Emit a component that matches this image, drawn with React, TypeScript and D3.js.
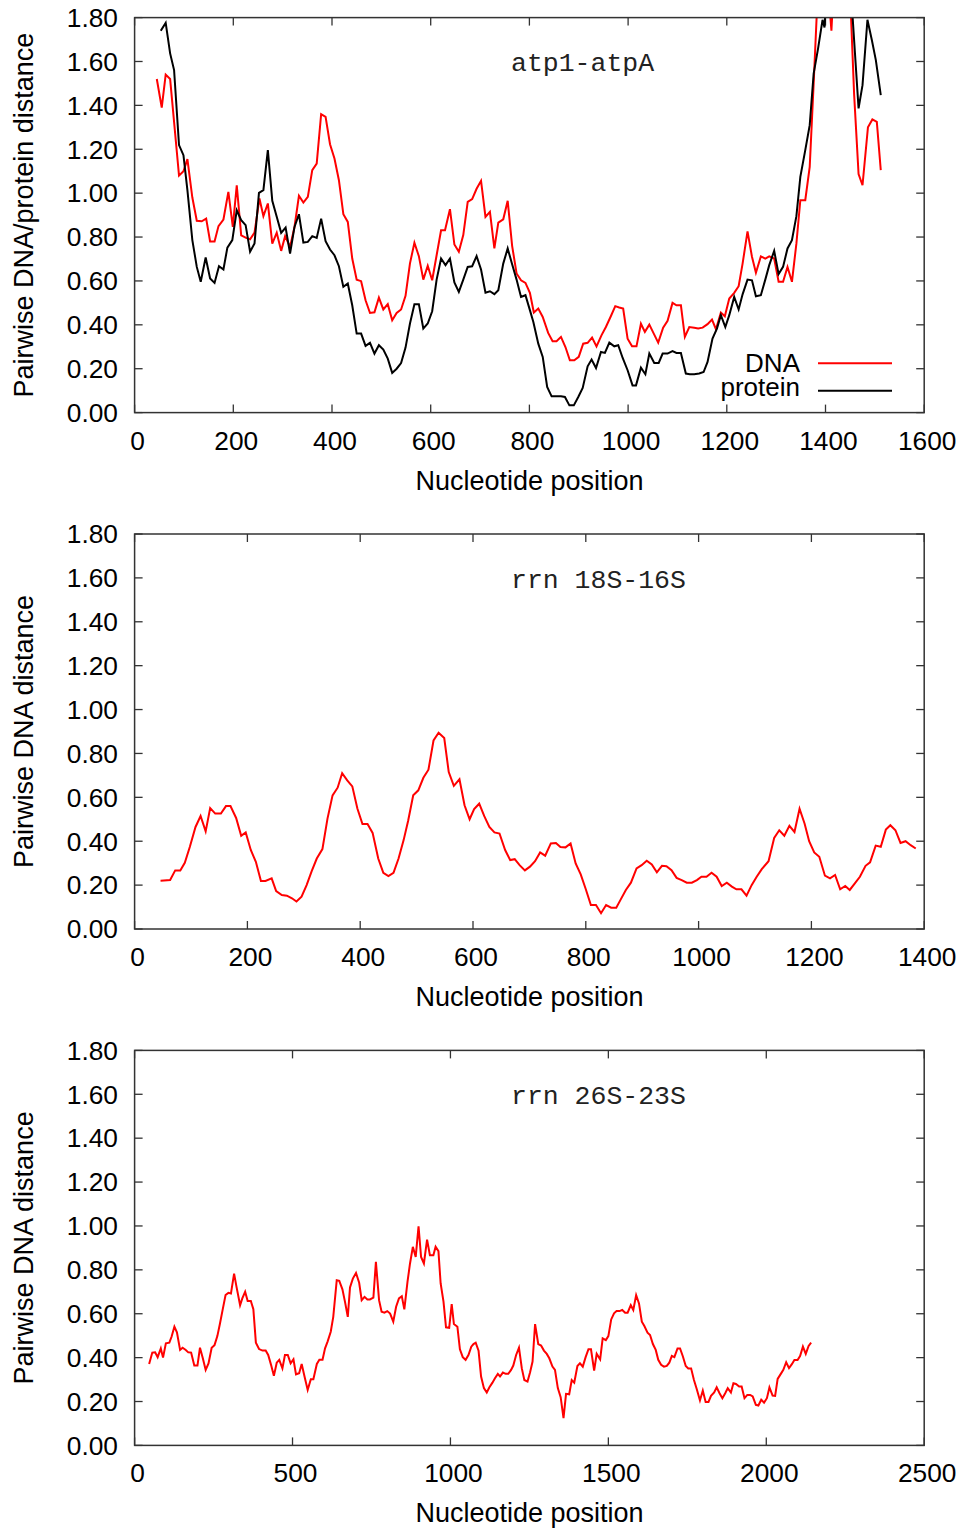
import React from 'react';
import * as d3 from 'd3';

type Pt = [number, number];

// Panel 1: atp1-atpA  (position, distance)
const atpDNA: Pt[] = [[45,1.52],[55,1.39],[63,1.54],[72,1.52],[90,1.08],[99,1.10],[107,1.155],[117,0.98],[126,0.874],[136,0.872],[145,0.884],[153,0.78],[162,0.78],[170,0.85],[180,0.88],[190,1.006],[199,0.846],[207,1.036],[216,0.808],[226,0.796],[234,0.79],[243,0.82],[253,0.976],[261,0.895],[270,0.953],[279,0.77],[288,0.82],[297,0.737],[305,0.804],[315,0.755],[324,0.846],[333,0.988],[342,0.957],[351,0.983],[360,1.105],[369,1.135],[378,1.36],[387,1.348],[396,1.223],[405,1.158],[414,1.059],[423,0.904],[432,0.869],[441,0.702],[450,0.606],[459,0.599],[468,0.512],[477,0.454],[486,0.457],[495,0.524],[504,0.47],[513,0.494],[522,0.421],[531,0.454],[540,0.47],[549,0.532],[558,0.68],[567,0.774],[576,0.713],[585,0.606],[594,0.669],[603,0.603],[612,0.717],[621,0.831],[629,0.831],[639,0.927],[648,0.766],[657,0.733],[666,0.809],[675,0.96],[684,0.973],[693,1.02],[702,1.056],[711,0.892],[720,0.915],[729,0.748],[737,0.866],[747,0.881],[756,0.965],[765,0.76],[774,0.634],[783,0.603],[792,0.591],[801,0.546],[809,0.456],[818,0.474],[827,0.436],[838,0.363],[847,0.325],[855,0.325],[864,0.345],[873,0.299],[882,0.238],[891,0.238],[900,0.254],[909,0.314],[918,0.318],[927,0.342],[936,0.302],[946,0.352],[955,0.39],[965,0.439],[974,0.485],[982,0.479],[990,0.474],[999,0.337],[1008,0.302],[1017,0.302],[1026,0.405],[1034,0.368],[1043,0.401],[1052,0.36],[1061,0.319],[1071,0.387],[1080,0.418],[1090,0.5],[1098,0.489],[1107,0.489],[1115,0.345],[1124,0.39],[1134,0.387],[1142,0.383],[1151,0.387],[1161,0.403],[1170,0.424],[1178,0.38],[1188,0.456],[1196,0.439],[1205,0.52],[1215,0.546],[1224,0.576],[1232,0.679],[1242,0.826],[1251,0.71],[1259,0.637],[1269,0.712],[1278,0.702],[1286,0.712],[1296,0.702],[1305,0.596],[1314,0.596],[1323,0.664],[1332,0.596],[1341,0.77],[1349,0.968],[1359,0.968],[1368,1.12],[1376,1.5],[1385,1.95],[1394,2.1],[1403,2.0],[1412,1.74],[1420,2.1],[1430,2.3],[1440,2.3],[1450,1.9],[1458,1.45],[1467,1.087],[1475,1.036],[1486,1.30],[1495,1.336],[1504,1.325],[1512,1.105]];

const atpProtein: Pt[] = [[53,1.74],[63,1.776],[72,1.637],[80,1.561],[90,1.219],[99,1.173],[107,1.014],[117,0.786],[126,0.664],[134,0.596],[144,0.707],[153,0.611],[162,0.591],[171,0.667],[180,0.652],[188,0.752],[198,0.786],[207,0.922],[216,0.877],[225,0.854],[234,0.733],[243,0.771],[252,1.001],[261,1.014],[270,1.196],[279,0.965],[288,0.892],[297,0.819],[306,0.843],[315,0.725],[324,0.846],[333,0.904],[342,0.775],[351,0.778],[360,0.804],[369,0.796],[378,0.884],[387,0.781],[396,0.743],[405,0.717],[414,0.667],[423,0.573],[432,0.588],[441,0.489],[450,0.36],[459,0.36],[468,0.304],[477,0.318],[486,0.269],[495,0.307],[504,0.287],[513,0.246],[522,0.181],[531,0.2],[540,0.226],[549,0.296],[558,0.406],[567,0.494],[576,0.494],[585,0.383],[594,0.406],[603,0.462],[612,0.606],[621,0.702],[630,0.672],[639,0.702],[648,0.593],[657,0.55],[666,0.606],[675,0.664],[684,0.667],[693,0.713],[702,0.652],[711,0.546],[720,0.553],[729,0.54],[737,0.558],[747,0.679],[756,0.748],[765,0.676],[774,0.606],[783,0.527],[792,0.535],[801,0.467],[808,0.413],[818,0.314],[827,0.254],[836,0.117],[845,0.074],[855,0.074],[864,0.074],[872,0.071],[881,0.033],[890,0.033],[899,0.071],[908,0.112],[918,0.211],[926,0.242],[935,0.203],[945,0.276],[953,0.272],[962,0.319],[972,0.302],[980,0.307],[989,0.249],[999,0.193],[1009,0.124],[1016,0.124],[1026,0.205],[1035,0.175],[1043,0.269],[1053,0.226],[1062,0.226],[1070,0.269],[1080,0.269],[1090,0.28],[1098,0.272],[1107,0.272],[1117,0.178],[1125,0.175],[1134,0.175],[1144,0.178],[1153,0.185],[1161,0.231],[1171,0.337],[1180,0.383],[1188,0.444],[1197,0.39],[1205,0.444],[1215,0.527],[1224,0.47],[1232,0.539],[1242,0.606],[1251,0.603],[1259,0.53],[1269,0.535],[1278,0.606],[1286,0.672],[1296,0.737],[1305,0.631],[1314,0.664],[1323,0.748],[1332,0.786],[1341,0.895],[1349,1.074],[1359,1.196],[1368,1.31],[1376,1.545],[1385,1.66],[1394,1.79],[1398,1.755],[1403,1.95],[1415,2.2],[1430,2.4],[1445,2.3],[1455,1.8],[1467,1.386],[1475,1.492],[1485,1.79],[1494,1.697],[1502,1.606],[1512,1.447]];

// Panel 2: rrn 18S-16S
const rrn18S: Pt[] = [[46,0.22],[63,0.223],[72,0.267],[81,0.267],[89,0.302],[98,0.375],[108,0.465],[117,0.515],[126,0.445],[134,0.551],[143,0.526],[153,0.526],[162,0.56],[170,0.56],[180,0.506],[189,0.425],[197,0.44],[206,0.36],[215,0.306],[224,0.219],[232,0.219],[243,0.231],[251,0.173],[261,0.155],[270,0.152],[279,0.14],[287,0.125],[296,0.147],[305,0.2],[314,0.264],[323,0.321],[333,0.364],[342,0.503],[351,0.609],[360,0.644],[368,0.71],[377,0.677],[386,0.65],[395,0.549],[404,0.478],[413,0.478],[422,0.438],[432,0.321],[441,0.256],[450,0.241],[459,0.256],[468,0.321],[477,0.405],[485,0.493],[494,0.609],[503,0.632],[512,0.689],[521,0.726],[530,0.859],[539,0.894],[549,0.87],[557,0.715],[566,0.652],[576,0.682],[585,0.564],[594,0.5],[602,0.546],[611,0.571],[620,0.514],[629,0.465],[638,0.44],[647,0.435],[657,0.36],[666,0.314],[674,0.318],[683,0.29],[692,0.267],[701,0.284],[710,0.309],[719,0.349],[728,0.334],[738,0.39],[747,0.392],[755,0.374],[764,0.372],[773,0.39],[782,0.299],[791,0.249],[800,0.181],[809,0.109],[818,0.109],[827,0.072],[836,0.109],[845,0.097],[854,0.097],[862,0.135],[871,0.178],[880,0.211],[890,0.276],[899,0.291],[908,0.311],[917,0.294],[926,0.258],[935,0.288],[943,0.286],[952,0.268],[961,0.233],[970,0.223],[979,0.211],[988,0.211],[997,0.223],[1005,0.238],[1014,0.238],[1023,0.256],[1032,0.238],[1041,0.196],[1050,0.211],[1059,0.193],[1067,0.181],[1076,0.181],[1085,0.152],[1094,0.2],[1103,0.238],[1112,0.273],[1124,0.309],[1134,0.415],[1143,0.45],[1152,0.425],[1161,0.47],[1170,0.442],[1179,0.548],[1188,0.48],[1196,0.4],[1205,0.349],[1214,0.329],[1224,0.243],[1233,0.231],[1242,0.246],[1251,0.181],[1260,0.196],[1268,0.178],[1277,0.208],[1286,0.238],[1296,0.288],[1304,0.304],[1314,0.38],[1323,0.375],[1332,0.453],[1340,0.473],[1349,0.45],[1358,0.392],[1367,0.4],[1376,0.382],[1385,0.367]];

// Panel 3: rrn 26S-23S
const rrn26S: Pt[] = [[46,0.371],[56,0.423],[65,0.424],[73,0.402],[83,0.442],[90,0.4],[99,0.465],[110,0.468],[117,0.495],[126,0.541],[134,0.515],[144,0.435],[152,0.445],[162,0.435],[170,0.424],[179,0.423],[189,0.364],[199,0.364],[207,0.445],[216,0.397],[225,0.344],[234,0.374],[244,0.445],[253,0.457],[262,0.498],[270,0.553],[279,0.62],[288,0.685],[297,0.695],[305,0.692],[315,0.783],[323,0.72],[334,0.639],[341,0.67],[350,0.7],[358,0.658],[368,0.658],[376,0.621],[384,0.468],[394,0.439],[405,0.432],[415,0.432],[423,0.412],[432,0.367],[441,0.317],[450,0.377],[458,0.39],[468,0.351],[476,0.412],[485,0.412],[494,0.374],[503,0.392],[511,0.324],[521,0.329],[529,0.371],[538,0.314],[548,0.253],[558,0.302],[566,0.302],[577,0.371],[585,0.39],[595,0.39],[603,0.442],[611,0.473],[621,0.518],[629,0.586],[640,0.753],[648,0.75],[658,0.711],[666,0.655],[675,0.586],[682,0.72],[691,0.76],[701,0.786],[711,0.741],[719,0.662],[728,0.677],[737,0.665],[745,0.665],[756,0.673],[764,0.836],[774,0.662],[782,0.609],[791,0.605],[800,0.612],[809,0.601],[819,0.564],[828,0.632],[837,0.67],[846,0.68],[854,0.62],[864,0.745],[872,0.829],[881,0.905],[890,0.859],[899,0.998],[907,0.859],[916,0.829],[926,0.938],[935,0.867],[946,0.867],[953,0.905],[962,0.885],[969,0.738],[978,0.655],[986,0.538],[996,0.536],[1004,0.644],[1011,0.553],[1022,0.541],[1030,0.438],[1039,0.402],[1048,0.39],[1057,0.412],[1066,0.45],[1073,0.462],[1080,0.468],[1089,0.432],[1097,0.314],[1106,0.261],[1115,0.241],[1123,0.264],[1133,0.286],[1141,0.306],[1150,0.326],[1157,0.314],[1166,0.332],[1175,0.326],[1183,0.326],[1192,0.344],[1199,0.364],[1208,0.412],[1217,0.445],[1226,0.351],[1234,0.298],[1244,0.291],[1252,0.332],[1260,0.382],[1268,0.553],[1278,0.462],[1287,0.455],[1296,0.432],[1305,0.417],[1313,0.397],[1323,0.359],[1331,0.344],[1340,0.261],[1349,0.22],[1358,0.124],[1366,0.235],[1376,0.233],[1384,0.298],[1392,0.286],[1402,0.362],[1410,0.374],[1419,0.359],[1428,0.402],[1437,0.438],[1445,0.438],[1455,0.341],[1463,0.417],[1474,0.392],[1482,0.488],[1492,0.48],[1500,0.498],[1509,0.574],[1518,0.602],[1526,0.612],[1535,0.612],[1544,0.617],[1553,0.605],[1561,0.605],[1571,0.639],[1579,0.617],[1588,0.685],[1597,0.647],[1606,0.564],[1614,0.544],[1624,0.514],[1632,0.503],[1641,0.462],[1650,0.435],[1658,0.39],[1667,0.367],[1676,0.359],[1685,0.362],[1693,0.377],[1701,0.408],[1709,0.402],[1719,0.442],[1727,0.442],[1736,0.405],[1745,0.362],[1753,0.351],[1762,0.351],[1771,0.298],[1780,0.256],[1790,0.205],[1799,0.25],[1808,0.198],[1817,0.198],[1825,0.226],[1835,0.241],[1843,0.265],[1852,0.238],[1861,0.215],[1870,0.238],[1878,0.261],[1888,0.241],[1896,0.283],[1904,0.28],[1914,0.268],[1922,0.268],[1931,0.215],[1940,0.23],[1949,0.23],[1957,0.223],[1967,0.185],[1975,0.182],[1984,0.208],[1993,0.195],[2002,0.215],[2010,0.264],[2020,0.227],[2028,0.226],[2036,0.303],[2046,0.326],[2054,0.344],[2063,0.379],[2072,0.352],[2081,0.37],[2089,0.389],[2099,0.389],[2107,0.407],[2116,0.45],[2125,0.417],[2134,0.453],[2142,0.468]];

const yTicks = [0, 0.2, 0.4, 0.6, 0.8, 1.0, 1.2, 1.4, 1.6, 1.8];
const xTicks1 = [0, 200, 400, 600, 800, 1000, 1200, 1400, 1600];
const xTicks2 = [0, 200, 400, 600, 800, 1000, 1200, 1400];
const xTicks3 = [0, 500, 1000, 1500, 2000, 2500];
const panelTitles = ['atp1-atpA', 'rrn 18S-16S', 'rrn 26S-23S'];
const yTitles = ['Pairwise DNA/protein distance', 'Pairwise DNA distance', 'Pairwise DNA distance'];
const xTitle = 'Nucleotide position';
const legendLabels = ['DNA', 'protein'];

const RED = '#ff0000';
const BLACK = '#000000';
const FONT = '"Liberation Sans", Arial, Helvetica, sans-serif';
const MONO = '"Liberation Mono", "DejaVu Sans Mono", monospace';
const LEFT = 134.6;
const RIGHT = 924.2;
const H = 395;
const TOP0 = 17.6;
const STEP = 516.4;
const TICK = 8;

interface Series { data: Pt[]; color: string; }

function Panel({ idx, xTicks, series, title, yTitle, legend }:
  { idx: number; xTicks: number[]; series: Series[]; title: string; yTitle: string; legend: boolean }) {
  const top = TOP0 + idx * STEP;
  const bottom = top + H;
  const x = d3.scaleLinear().domain([0, xTicks[xTicks.length - 1]]).range([LEFT, RIGHT]);
  const y = d3.scaleLinear().domain([0, 1.8]).range([bottom, top]);
  const line = d3.line<Pt>().x(d => x(d[0])).y(d => y(d[1]));
  const clipId = `clip-${idx}`;
  return (
    <g>
      <defs>
        <clipPath id={clipId}>
          <rect x={LEFT} y={top} width={RIGHT - LEFT} height={H} />
        </clipPath>
      </defs>
      {yTicks.map(t => (
        <g key={'y' + t}>
          <line x1={LEFT} x2={LEFT + TICK} y1={y(t)} y2={y(t)} stroke="#333" strokeWidth={1.3} />
          <line x1={RIGHT - TICK} x2={RIGHT} y1={y(t)} y2={y(t)} stroke="#333" strokeWidth={1.3} />
          <text x={118} y={y(t) + 9.3} textAnchor="end" fontFamily={FONT} fontSize={26.3} fill="#000">
            {t.toFixed(2)}
          </text>
        </g>
      ))}
      {xTicks.map(t => (
        <g key={'x' + t}>
          <line x1={x(t)} x2={x(t)} y1={bottom} y2={bottom - TICK} stroke="#333" strokeWidth={1.3} />
          <line x1={x(t)} x2={x(t)} y1={top} y2={top + TICK} stroke="#333" strokeWidth={1.3} />
          <text x={x(t) + 3} y={bottom + 37} textAnchor="middle" fontFamily={FONT} fontSize={26.3} fill="#000">
            {t}
          </text>
        </g>
      ))}
      <g clipPath={`url(#${clipId})`}>
        {series.map((s, i) => (
          <path key={i} d={line(s.data) || ''} fill="none" stroke={s.color} strokeWidth={2} strokeLinejoin="miter" />
        ))}
      </g>
      <rect x={LEFT} y={top} width={RIGHT - LEFT} height={H} fill="none" stroke="#333" strokeWidth={1.5} />
      <text x={511} y={top + 53.5} fontFamily={MONO} fontSize={26.5} fill="#222">{title}</text>
      <text x={529.5} y={bottom + 77} textAnchor="middle" fontFamily={FONT} fontSize={27} fill="#000">{xTitle}</text>
      <text transform={`translate(33,${(top + bottom) / 2}) rotate(-90)`} textAnchor="middle" fontFamily={FONT} fontSize={27} fill="#000">
        {yTitle}
      </text>
      {legend && legendLabels.map((lab, i) => (
        <g key={lab}>
          <text x={800} y={top + 354 + i * 24.5} textAnchor="end" fontFamily={FONT} fontSize={26} fill="#000">{lab}</text>
          <line x1={818} x2={892} y1={top + 345.7 + i * 27.4} y2={top + 345.7 + i * 27.4} stroke={series[i].color} strokeWidth={2} />
        </g>
      ))}
    </g>
  );
}

export default function App() {
  return (
    <div style={{ position: 'absolute', left: 0, top: 0, width: 962, height: 1529, background: '#fff' }}>
      <svg width={962} height={1529} viewBox="0 0 962 1529" style={{ display: 'block' }}>
        <rect x={0} y={0} width={962} height={1529} fill="#fff" />
        <Panel idx={0} xTicks={xTicks1} title={panelTitles[0]} yTitle={yTitles[0]} legend={true}
          series={[{ data: atpDNA, color: RED }, { data: atpProtein, color: BLACK }]} />
        <Panel idx={1} xTicks={xTicks2} title={panelTitles[1]} yTitle={yTitles[1]} legend={false}
          series={[{ data: rrn18S, color: RED }]} />
        <Panel idx={2} xTicks={xTicks3} title={panelTitles[2]} yTitle={yTitles[2]} legend={false}
          series={[{ data: rrn26S, color: RED }]} />
      </svg>
    </div>
  );
}
